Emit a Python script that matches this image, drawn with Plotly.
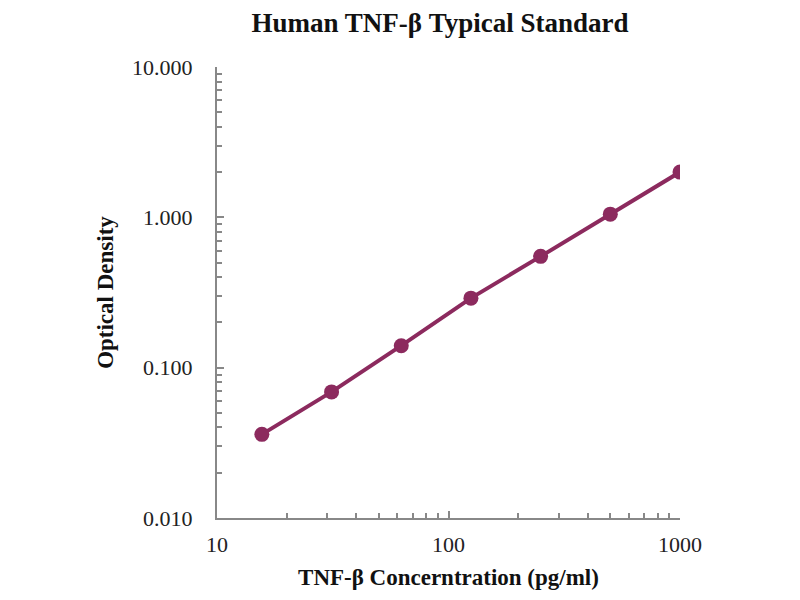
import plotly.graph_objects as go

# standard curve values
concentration = [15.625, 31.25, 62.5, 125, 250, 500, 1000]
optical_density = [0.036, 0.069, 0.140, 0.290, 0.550, 1.050, 2.000]

x_tick_vals = [10, 100, 1000]
x_tick_text = ["10", "100", "1000"]
y_tick_vals = [0.01, 0.1, 1, 10]
y_tick_text = ["0.010", "0.100", "1.000", "10.000"]

# log minor ticks at 2..9 of every decade
x_minor = [m * 10 ** d for d in (1, 2) for m in range(2, 10)]
y_minor = [m * 10 ** d for d in (-2, -1, 0) for m in range(2, 10)]

curve_color = "#8c2a5e"
font_family = "Liberation Serif, Times New Roman, serif"

fig = go.Figure(go.Scatter(
    x=concentration,
    y=optical_density,
    mode="lines+markers",
    line=dict(color=curve_color, width=4),
    marker=dict(color=curve_color, size=15),
    showlegend=False,
))

axis_common = dict(
    type="log",
    showgrid=False,
    zeroline=False,
    showline=True,
    linecolor="#888888",
    linewidth=2,
    ticks="inside",
    ticklen=7,
    tickwidth=1.5,
    tickcolor="#888888",
    tickfont=dict(family=font_family, size=22, color="#222222"),
)

fig.update_xaxes(
    **axis_common,
    range=[1, 3],
    tickvals=x_tick_vals,
    ticktext=x_tick_text,
    ticklabelstandoff=6,
    minor=dict(tickvals=x_minor, ticks="inside", ticklen=5, tickwidth=1.5,
               tickcolor="#888888", showgrid=False),
    title=dict(text="<b>TNF-β Concerntration (pg/ml)</b>",
               font=dict(family=font_family, size=23, color="#111111"), standoff=12),
)
fig.update_yaxes(
    **axis_common,
    range=[-2, 1],
    tickvals=y_tick_vals,
    ticktext=y_tick_text,
    ticklabelstandoff=18,
    minor=dict(tickvals=y_minor, ticks="inside", ticklen=5, tickwidth=1.5,
               tickcolor="#888888", showgrid=False),
    title=dict(text="<b>Optical Density</b>",
               font=dict(family=font_family, size=23, color="#111111"), standoff=12),
)

fig.update_layout(
    width=800,
    height=600,
    paper_bgcolor="white",
    plot_bgcolor="white",
    margin=dict(l=209, r=128, t=59, b=90),
    title=dict(text="<b>Human TNF-β Typical Standard</b>", x=0.54, xanchor="center",
               y=0.976, yanchor="middle",
               font=dict(family=font_family, size=27, color="#111111")),
)

fig.write_html("out.html")
